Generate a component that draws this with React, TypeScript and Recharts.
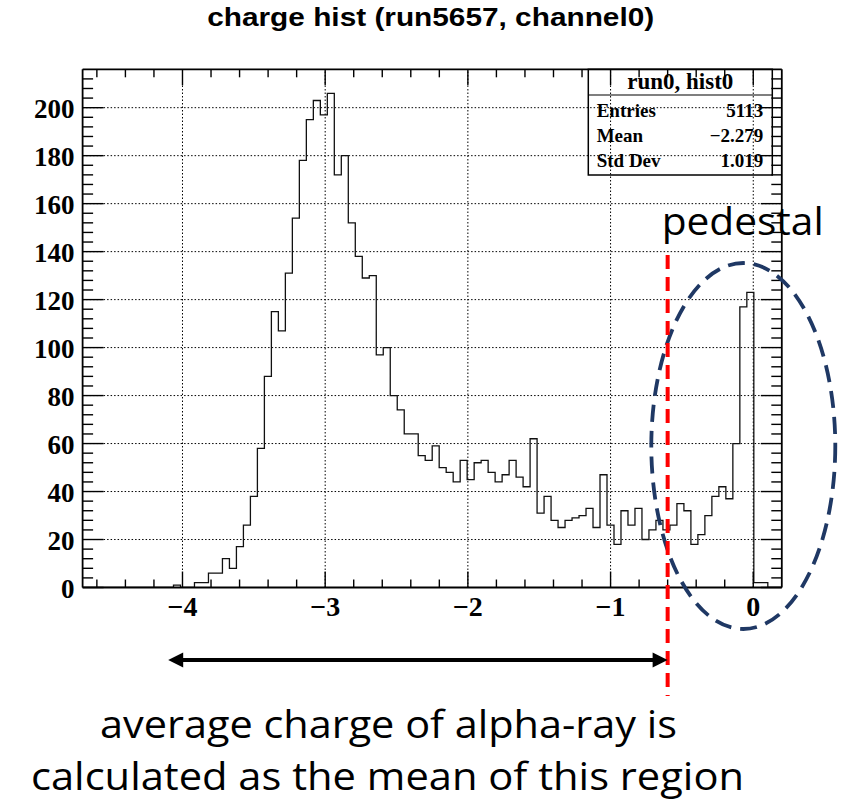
import { ComposedChart, Line, ReferenceLine, XAxis, YAxis } from "recharts";

// histogram definition: 100 bins from -4.7 to 0.2
const BIN_LOW = -4.7;
const BIN_WIDTH = 0.049;
const COUNTS = [
  0, 0, 0, 0, 0, 0, 0, 0, 0, 0, 0, 0, 0, 1, 0, 0, 2, 2, 6, 6,
  12, 8, 17, 26, 38, 58, 88, 115, 107, 131, 154, 178, 195, 203, 197, 206, 172, 180, 152, 138,
  129, 130, 97, 100, 80, 74, 64, 64, 55, 53, 59, 50, 48, 44, 53, 45, 52, 53, 48, 44,
  47, 53, 46, 42, 62, 31, 38, 28, 25, 28, 29, 30, 33, 25, 47, 26, 18, 32, 26, 33,
  20, 24, 28, 24, 26, 35, 32, 18, 22, 30, 38, 42, 37, 60, 117, 123, 2, 2, 0, 0,
];

const X_DOMAIN: [number, number] = [-4.7, 0.2];
const Y_DOMAIN: [number, number] = [0, 216];

const X_TICKS = [
  -4.6, -4.4, -4.2, -4, -3.8, -3.6, -3.4, -3.2, -3, -2.8, -2.6, -2.4, -2.2, -2,
  -1.8, -1.6, -1.4, -1.2, -1, -0.8, -0.6, -0.4, -0.2, 0,
];
const X_MAJOR = [-4, -3, -2, -1, 0];
const X_LABELS = ["\u22124", "\u22123", "\u22122", "\u22121", "0"];

const Y_TICKS = [
  0, 4, 8, 12, 16, 20, 24, 28, 32, 36, 40, 44, 48, 52, 56, 60, 64, 68, 72, 76,
  80, 84, 88, 92, 96, 100, 104, 108, 112, 116, 120, 124, 128, 132, 136, 140, 144,
  148, 152, 156, 160, 164, 168, 172, 176, 180, 184, 188, 192, 196, 200, 204, 208, 212,
];
const Y_MAJOR = [0, 20, 40, 60, 80, 100, 120, 140, 160, 180, 200];
const Y_LABELS = ["0", "20", "40", "60", "80", "100", "120", "140", "160", "180", "200"];

const STATS_TITLE = "run0, hist0";
const STATS_NAMES = ["Entries", "Mean", "Std Dev"];
const STATS_VALUES = ["5113", "\u22122.279", "1.019"];

const CUT_X = -0.6; // end of alpha-ray region
const REGION_START = -4.1;

const data = [
  ...COUNTS.map((c, i) => ({ x: +(BIN_LOW + i * BIN_WIDTH).toFixed(4), count: c })),
  { x: X_DOMAIN[1], count: 0 },
];

// plot frame in page pixels
const W = 841;
const H = 802;
const PLOT = { left: 82.6, top: 69.3, right: 781.8, bottom: 587.5 };
const LEFT_AXIS_W = 60;
const BOTTOM_AXIS_H = 40;

const px = (v: number) =>
  PLOT.left + ((v - X_DOMAIN[0]) / (X_DOMAIN[1] - X_DOMAIN[0])) * (PLOT.right - PLOT.left);

const ROOT_FONT = '"Liberation Serif", "Times New Roman", serif';
const NOTE_FONT = '"Open Sans", Lato, sans-serif';

const isMajorX = (v: number) => X_MAJOR.includes(v);
const isMajorY = (v: number) => Y_MAJOR.includes(v);

// ROOT style: ticks point into the frame, mirrored on the top / right edge
function BottomTick(props: any) {
  const { x, y, payload } = props;
  const v = payload.value;
  const major = isMajorX(v);
  const len = major ? 16 : 8;
  return (
    <g>
      <line x1={x} x2={x} y1={y} y2={y - len} stroke="#000" strokeWidth={1.4} />
      <line x1={x} x2={x} y1={PLOT.top} y2={PLOT.top + len} stroke="#000" strokeWidth={1.4} />
      {major && (
        <text x={x} y={y + 28} textAnchor="middle" fontFamily={ROOT_FONT} fontWeight="bold" fontSize={28} fill="#000">
          {X_LABELS[X_MAJOR.indexOf(v)]}
        </text>
      )}
    </g>
  );
}

function LeftTick(props: any) {
  const { x, y, payload } = props;
  const v = payload.value;
  const major = isMajorY(v);
  const len = major ? 21 : 10.5;
  return (
    <g>
      <line x1={x} x2={x + len} y1={y} y2={y} stroke="#000" strokeWidth={1.4} />
      <line x1={PLOT.right} x2={PLOT.right - len} y1={y} y2={y} stroke="#000" strokeWidth={1.4} />
      {major && (
        <text x={x - 8} y={y + 10} textAnchor="end" fontFamily={ROOT_FONT} fontWeight="bold" fontSize={27} fill="#000">
          {Y_LABELS[Y_MAJOR.indexOf(v)]}
        </text>
      )}
    </g>
  );
}

const grid = { stroke: "#000", strokeWidth: 1, strokeDasharray: "1.5 2" };
const frame = { stroke: "#000", strokeWidth: 1.8 };

export default function App() {
  const cutPx = px(CUT_X);
  const startPx = px(REGION_START);
  const arrowY = 660;
  return (
    <div style={{ position: "absolute", left: 0, top: 0, width: W, height: H, background: "#fff" }}>
      <ComposedChart
        width={W}
        height={H}
        data={data}
        margin={{
          top: PLOT.top,
          right: W - PLOT.right,
          bottom: H - PLOT.bottom - BOTTOM_AXIS_H,
          left: PLOT.left - LEFT_AXIS_W,
        }}
      >
        <XAxis
          dataKey="x"
          type="number"
          domain={X_DOMAIN}
          allowDataOverflow
          ticks={X_TICKS}
          interval={0}
          height={BOTTOM_AXIS_H}
          tickSize={0}
          tickMargin={0}
          tickLine={false}
          axisLine={frame}
          tick={<BottomTick />}
        />
        <YAxis
          type="number"
          domain={Y_DOMAIN}
          allowDataOverflow
          ticks={Y_TICKS}
          interval={0}
          width={LEFT_AXIS_W}
          tickSize={0}
          tickMargin={0}
          tickLine={false}
          axisLine={frame}
          tick={<LeftTick />}
        />
        {X_MAJOR.map((v) => (
          <ReferenceLine key={`gx${v}`} x={v} {...grid} />
        ))}
        {Y_MAJOR.filter((v) => v > 0).map((v) => (
          <ReferenceLine key={`gy${v}`} y={v} {...grid} />
        ))}
        <ReferenceLine y={Y_DOMAIN[1]} {...frame} />
        <ReferenceLine x={X_DOMAIN[1]} {...frame} />
        <Line
          dataKey="count"
          type="stepAfter"
          stroke="#111"
          strokeWidth={1.3}
          dot={false}
          activeDot={false}
          isAnimationActive={false}
        />
      </ComposedChart>

      <svg width={W} height={H} style={{ position: "absolute", left: 0, top: 0, pointerEvents: "none" }}>
        <text
          x={430.7}
          y={26}
          textAnchor="middle"
          fontFamily='"Liberation Sans", Arial, sans-serif'
          fontWeight="bold"
          fontSize={25}
          textLength={447}
          lengthAdjust="spacingAndGlyphs"
        >
          charge hist (run5657, channel0)
        </text>

        {/* stats box */}
        <rect x={588.3} y={PLOT.top} width={184} height={105.7} fill="none" stroke="#000" strokeWidth={1.5} />
        <line x1={588.3} x2={772.3} y1={95} y2={95} stroke="#000" strokeWidth={1.2} />
        <text x={680.3} y={89} textAnchor="middle" fontFamily={ROOT_FONT} fontWeight="bold" fontSize={23}>
          {STATS_TITLE}
        </text>
        {STATS_NAMES.map((n, i) => (
          <g key={n}>
            <text x={596.7} y={117 + i * 25} fontFamily={ROOT_FONT} fontWeight="bold" fontSize={19}>
              {n}
            </text>
            <text x={763.3} y={117 + i * 25} textAnchor="end" fontFamily={ROOT_FONT} fontWeight="bold" fontSize={19}>
              {STATS_VALUES[i]}
            </text>
          </g>
        ))}

        {/* pedestal annotation */}
        <ellipse
          cx={743.3}
          cy={446}
          rx={92}
          ry={183}
          fill="none"
          stroke="#1f3864"
          strokeWidth={3.8}
          strokeDasharray="17 9"
        />
        <text x={661.7} y={235} fontFamily={NOTE_FONT} fontSize={38} textLength={162} lengthAdjust="spacingAndGlyphs">
          pedestal
        </text>

        {/* cut line and region arrow */}
        <line x1={cutPx} x2={cutPx} y1={255} y2={696} stroke="#ff0000" strokeWidth={4} strokeDasharray="14 8" />
        <line x1={startPx + 12} x2={cutPx - 12} y1={arrowY} y2={arrowY} stroke="#000" strokeWidth={4} />
        <polygon
          points={`${startPx},${arrowY} ${startPx + 15},${arrowY - 7.5} ${startPx + 15},${arrowY + 7.5}`}
          fill="#000"
        />
        <polygon points={`${cutPx},${arrowY} ${cutPx - 15},${arrowY - 7.5} ${cutPx - 15},${arrowY + 7.5}`} fill="#000" />

        <text x={100} y={738} fontFamily={NOTE_FONT} fontSize={39} textLength={577} lengthAdjust="spacingAndGlyphs">
          average charge of alpha-ray is
        </text>
        <text x={31} y={790} fontFamily={NOTE_FONT} fontSize={39} textLength={713} lengthAdjust="spacingAndGlyphs">
          calculated as the mean of this region
        </text>
      </svg>
    </div>
  );
}
